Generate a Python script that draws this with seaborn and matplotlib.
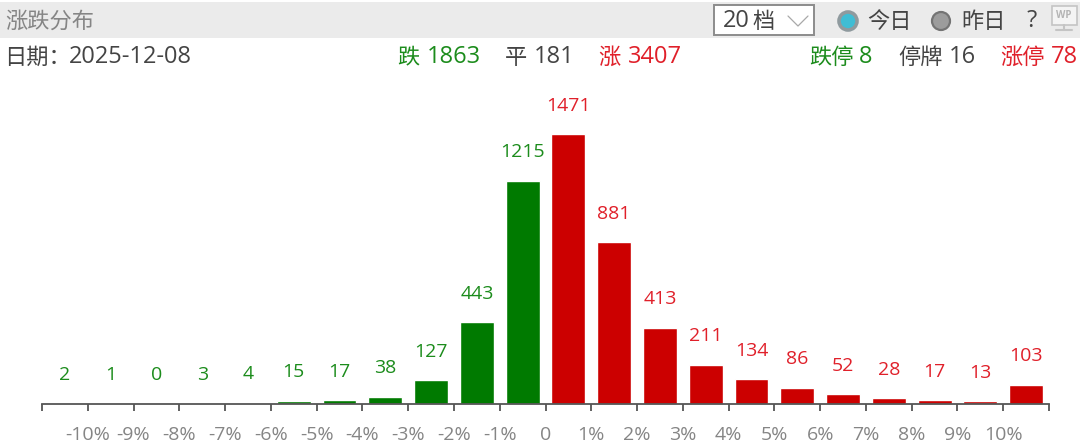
import matplotlib
matplotlib.use("Agg")
import matplotlib.pyplot as plt
from matplotlib.patches import Circle, Rectangle
import pandas as pd
import seaborn as sns

# Data
bins = ["<-10", "-10~-9", "-9~-8", "-8~-7", "-7~-6", "-6~-5", "-5~-4", "-4~-3", "-3~-2", "-2~-1", "-1~0",
        "0~1", "1~2", "2~3", "3~4", "4~5", "5~6", "6~7", "7~8", "8~9", "9~10", ">10"]
counts = [2, 1, 0, 3, 4, 15, 17, 38, 127, 443, 1215,
          1471, 881, 413, 211, 134, 86, 52, 28, 17, 13, 103]
side = ["down"] * 11 + ["up"] * 11
tick_labels = ["-10%", "-9%", "-8%", "-7%", "-6%", "-5%", "-4%", "-3%", "-2%", "-1%", "0",
               "1%", "2%", "3%", "4%", "5%", "6%", "7%", "8%", "9%", "10%"]

GREEN_BAR, RED_BAR = "#007a00", "#cc0000"
GREEN_TXT, RED_TXT, DARK_TXT, GREY_TXT = "#1c8c1c", "#e0202a", "#444444", "#858585"
CJK = "Noto Sans CJK SC"
NUM = ["Open Sans", "Noto Sans CJK SC"]

sns.set_style("white")
plt.rcParams["font.family"] = NUM

W, H = 1080, 446
fig = plt.figure(figsize=(W / 100, H / 100), dpi=100, facecolor="white")

# Plot area: axis line sits at y=403 px, 1471 tops out at y=134 px
ax = fig.add_axes([42 / W, (H - 403.5) / H, (1049 - 42) / W, 303 / H])
df = pd.DataFrame({"bin": bins, "count": counts, "side": side})
sns.barplot(data=df, x="bin", y="count", hue="side", dodge=False, legend=False, saturation=1,
            palette={"down": GREEN_BAR, "up": RED_BAR}, width=0.74, ax=ax)

ax.set_xlim(-0.5, len(bins) - 0.5)
ax.set_ylim(0, 1471 * 303 / 269.5)
ax.set_xlabel("")
ax.set_ylabel("")
ax.set_yticks([])
ax.set_xticks([i - 0.5 for i in range(len(bins) + 1)])
ax.set_xticklabels([""] + tick_labels + [""], fontsize=14, color=GREY_TXT)
ax.tick_params(axis="x", length=5, width=1.3, color="#555555", pad=11, bottom=True)
ax.spines[["top", "left", "right"]].set_visible(False)
ax.spines["bottom"].set_color("#555555")
ax.spines["bottom"].set_linewidth(1.3)

for i, v in enumerate(counts):
    ax.annotate(str(v), (i, v), xytext=(0, 14), textcoords="offset points", ha="center", va="bottom",
                fontsize=14, color=GREEN_TXT if side[i] == "down" else RED_TXT)

# Header strip, in pixel coordinates
ui = fig.add_axes([0, 0, 1, 1], zorder=5)
ui.set_xlim(0, W)
ui.set_ylim(H, 0)
ui.axis("off")
ui.patch.set_alpha(0)

ui.add_patch(Rectangle((0, 2), W, 36, fc="#ebebeb", ec="none"))
ui.add_patch(Rectangle((713.5, 4.5), 100, 30, fc="white", ec="#8c8c8c", lw=1.4))
ui.plot([788, 798, 808], [16, 26, 16], color="#a8a8a8", lw=0.9)
ui.add_patch(Circle((848, 21), 9, fc="#3fbdd4", ec="#8f9a9e", lw=2.6))
ui.add_patch(Circle((941, 21), 9, fc="#9c9c9c", ec="#747474", lw=1.6))
ui.add_patch(Rectangle((1051.5, 5.5), 25, 19, fc="#f4f4f4", ec="#c4c4c4", lw=1.2))
ui.text(1064, 15, "WP", fontsize=7, color="#b4b4b4", ha="center", va="center", fontweight="bold")
ui.plot([1064, 1064], [25, 29], color="#c4c4c4", lw=1.5)
ui.plot([1056, 1072], [30, 30], color="#c4c4c4", lw=1.5)

# Chinese and numerals set apart, the numerals run larger in the reference
cjk_text = [(5, 21, "涨跌分布", GREY_TXT), (752, 21, "档", DARK_TXT), (867, 21, "今日", DARK_TXT), (961, 21, "昨日", DARK_TXT),
            (4, 57, "日期：", DARK_TXT), (397, 57, "跌", GREEN_TXT), (505, 57, "平", DARK_TXT), (598, 57, "涨", RED_TXT),
            (809, 57, "跌停", GREEN_TXT), (898, 57, "停牌", DARK_TXT), (1000, 57, "涨停", RED_TXT)]
num_text = [(723, 21, "20", DARK_TXT), (1027, 21, "?", DARK_TXT),
            (69, 57, "2025-12-08", DARK_TXT), (427, 57, "1863", GREEN_TXT), (534, 57, "181", DARK_TXT),
            (628, 57, "3407", RED_TXT), (859, 57, "8", GREEN_TXT), (949, 57, "16", DARK_TXT), (1051, 57, "78", RED_TXT)]
for x, y, s, c in cjk_text:
    ui.text(x, y, s, color=c, fontsize=16, va="center", ha="left", family=CJK)
for x, y, s, c in num_text:
    ui.text(x, y, s, color=c, fontsize=17, va="center", ha="left")

fig.savefig("out.png", dpi=100)
